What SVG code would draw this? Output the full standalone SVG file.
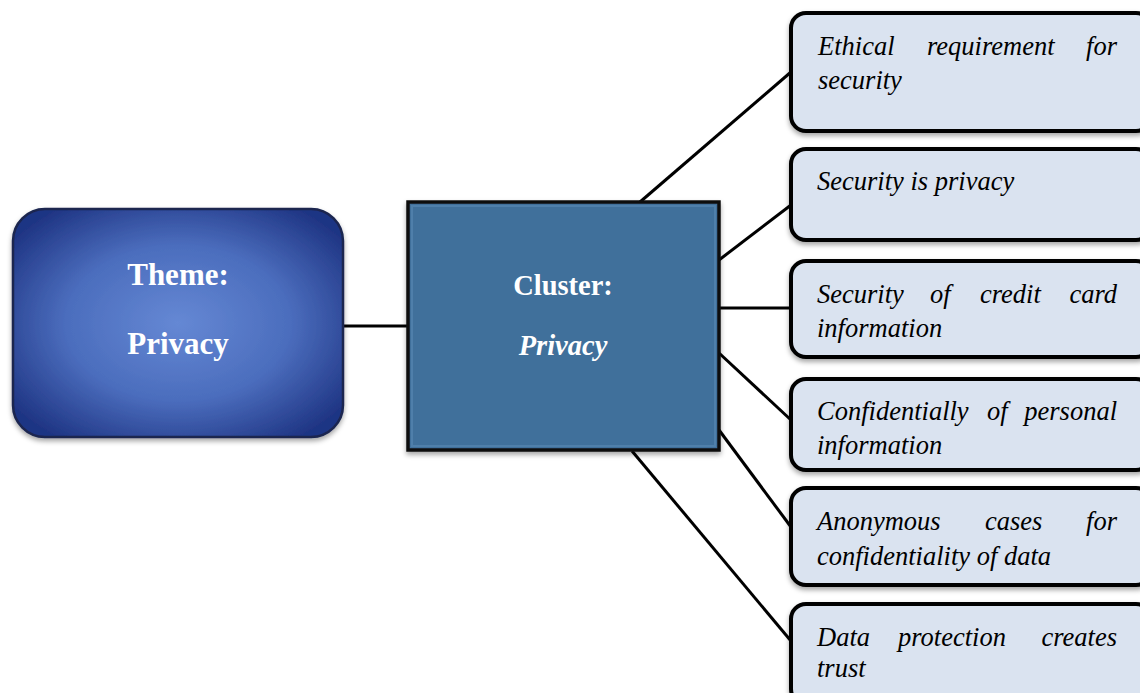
<svg xmlns="http://www.w3.org/2000/svg" width="1140" height="693" viewBox="0 0 1140 693">
<defs>
<radialGradient id="themeGrad" cx="50%" cy="50%" r="62%">
<stop offset="0" stop-color="#6588d4"/>
<stop offset="0.55" stop-color="#4b6dbd"/>
<stop offset="1" stop-color="#1f3584"/>
</radialGradient>
<filter id="shadow" x="-10%" y="-10%" width="120%" height="130%">
<feDropShadow dx="0" dy="3" stdDeviation="2.5" flood-color="#000" flood-opacity="0.35"/>
</filter>
<style>
.conn { stroke:#000; stroke-width:3; fill:none; }
.leaf { fill:#dae3f0; stroke:#000; stroke-width:4; filter:url(#shadow); }
.lt { font-family:"Liberation Serif", "Times New Roman", serif; font-style:italic; font-size:26.5px; fill:#000; }
.hd { font-family:"Liberation Serif", "Times New Roman", serif; font-weight:bold; fill:#fff; text-anchor:middle; }
.th { font-size:31px; }
.cl { font-size:28.5px; }
</style>
</defs>
<rect width="1140" height="693" fill="#fff"/>
<g id="connectors">
<line class="conn" x1="343" y1="326" x2="407" y2="326"/>
<line class="conn" x1="640" y1="202" x2="791" y2="72"/>
<line class="conn" x1="719" y1="260" x2="791" y2="205"/>
<line class="conn" x1="719" y1="308" x2="791" y2="308"/>
<line class="conn" x1="719" y1="353" x2="791" y2="420"/>
<line class="conn" x1="719" y1="430" x2="791" y2="527"/>
<line class="conn" x1="632" y1="451" x2="791" y2="641"/>
</g>
<g id="theme">
<rect x="13" y="209" width="330" height="228" rx="32" fill="url(#themeGrad)" stroke="#1a2550" stroke-width="2.5" filter="url(#shadow)"/>
<text class="hd th" x="178" y="285">Theme:</text>
<text class="hd th" x="178" y="354">Privacy</text>
</g>
<g id="cluster">
<rect x="408" y="202" width="311" height="248" fill="#41709b" stroke="#111" stroke-width="3.5" filter="url(#shadow)"/>
<rect x="412" y="206" width="303" height="240" fill="none" stroke="#5a88b4" stroke-width="2" opacity="0.6"/>
<text class="hd cl" x="563" y="295">Cluster:</text>
<text class="hd cl" x="563" y="355" font-style="italic">Privacy</text>
</g>
<g id="leaf1">
<rect class="leaf" x="791" y="13" width="360" height="118" rx="15"/>
<text class="lt" x="818" y="55">Ethical</text>
<text class="lt" x="927" y="55">requirement</text>
<text class="lt" x="1117" y="55" text-anchor="end">for</text>
<text class="lt" x="818" y="89">security</text>
</g>
<g id="leaf2">
<rect class="leaf" x="791" y="149" width="360" height="91" rx="15"/>
<text class="lt" x="817" y="190">Security is privacy</text>
</g>
<g id="leaf3">
<rect class="leaf" x="791" y="261" width="360" height="96" rx="15"/>
<text class="lt" x="817" y="303">Security</text>
<text class="lt" x="930" y="303">of</text>
<text class="lt" x="980" y="303">credit</text>
<text class="lt" x="1117" y="303" text-anchor="end">card</text>
<text class="lt" x="817" y="337">information</text>
</g>
<g id="leaf4">
<rect class="leaf" x="791" y="379" width="360" height="91" rx="15"/>
<text class="lt" x="817" y="420">Confidentially</text>
<text class="lt" x="987" y="420">of</text>
<text class="lt" x="1117" y="420" text-anchor="end">personal</text>
<text class="lt" x="817" y="454">information</text>
</g>
<g id="leaf5">
<rect class="leaf" x="791" y="488" width="360" height="97" rx="15"/>
<text class="lt" x="817" y="530">Anonymous</text>
<text class="lt" x="985" y="530">cases</text>
<text class="lt" x="1117" y="530" text-anchor="end">for</text>
<text class="lt" x="817" y="565">confidentiality of data</text>
</g>
<g id="leaf6">
<rect class="leaf" x="791" y="604" width="360" height="100" rx="15"/>
<text class="lt" x="817" y="646">Data</text>
<text class="lt" x="898" y="646">protection</text>
<text class="lt" x="1117" y="646" text-anchor="end">creates</text>
<text class="lt" x="817" y="677">trust</text>
</g>
</svg>
